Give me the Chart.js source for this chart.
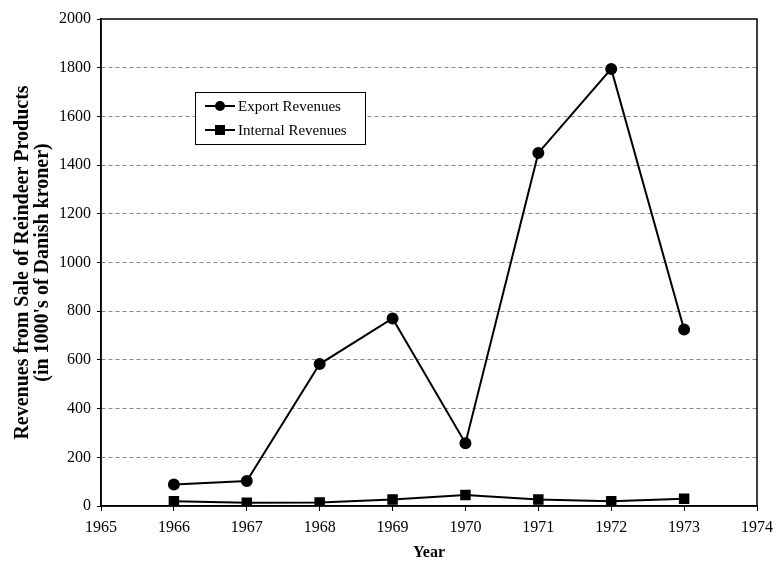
<!DOCTYPE html>
<html>
<head>
<meta charset="utf-8">
<script src="https://cdn.jsdelivr.net/npm/chart.js@4.4.0/dist/chart.umd.min.js"></script>
<style>
  html, body { margin: 0; padding: 0; background: #ffffff; }
  #wrap { width: 778px; height: 562px; }
</style>
</head>
<body>
<div id="wrap"><canvas id="chartRenas" width="778" height="562"></canvas></div>
<script>
// dados
var anos = [1966, 1967, 1968, 1969, 1970, 1971, 1972, 1973];
var receitaExport = [88, 103, 583, 770, 258, 1450, 1795, 725];
var receitaInterna = [20, 13, 14, 27, 45, 27, 20, 30];
var nomesSeries = ['Export Revenues', 'Internal Revenues'];
var marcasY = [0, 200, 400, 600, 800, 1000, 1200, 1400, 1600, 1800, 2000];

var fonte = "'Liberation Serif', 'Times New Roman', serif";

function pares(xs, ys) {
    return xs.map(function (x, i) { return { x: x, y: ys[i] }; });
}

// moldura do gráfico + legenda dentro da área
var pluginMoldura = {
    id: 'moldura',
    afterDraw: function (chart) {
        var ctx = chart.ctx;
        var a = chart.chartArea;
        ctx.save();
        ctx.strokeStyle = '#000';
        ctx.lineWidth = 1.5;
        ctx.strokeRect(a.left, a.top, a.right - a.left, a.bottom - a.top);

        // legenda
        var lx = 195, ly = 92, lw = 170, lh = 52;
        ctx.fillStyle = '#fff';
        ctx.fillRect(lx, ly, lw, lh);
        ctx.lineWidth = 1;
        ctx.strokeRect(lx + 0.5, ly + 0.5, lw, lh);
        ctx.font = '15px ' + fonte;
        ctx.textBaseline = 'middle';
        chart.data.datasets.forEach(function (ds, i) {
            var yy = ly + 14 + i * 24;
            ctx.strokeStyle = '#000';
            ctx.lineWidth = 2;
            ctx.beginPath();
            ctx.moveTo(lx + 10, yy);
            ctx.lineTo(lx + 40, yy);
            ctx.stroke();
            ctx.fillStyle = '#000';
            if (ds.pointStyle === 'rect') {
                ctx.fillRect(lx + 25 - 5, yy - 5, 10, 10);
            } else {
                ctx.beginPath();
                ctx.arc(lx + 25, yy, 5, 0, Math.PI * 2);
                ctx.fill();
            }
            ctx.fillText(ds.label, lx + 43, yy + 1);
        });
        ctx.restore();
    }
};

var ctxRenas = document.getElementById('chartRenas');

var graficoRenas = new Chart(ctxRenas, {
    type: 'line',
    data: {
        datasets: [{
            label: nomesSeries[0],
            data: pares(anos, receitaExport),
            borderColor: '#000',
            backgroundColor: '#000',
            borderWidth: 2,
            pointStyle: 'circle',
            pointRadius: 5,
            pointHoverRadius: 5,
            tension: 0
        }, {
            label: nomesSeries[1],
            data: pares(anos, receitaInterna),
            borderColor: '#000',
            backgroundColor: '#000',
            borderWidth: 2,
            pointStyle: 'rect',
            pointRadius: 6,
            pointHoverRadius: 6,
            tension: 0
        }]
    },
    options: {
        responsive: false,
        animation: false,
        layout: { padding: { top: 19, right: 21, left: 0, bottom: 0 } },
        plugins: {
            legend: { display: false },
            tooltip: { enabled: false }
        },
        scales: {
            x: {
                type: 'linear',
                min: 1965,
                max: 1974,
                afterFit: function (s) {
                    s.height = 56;
                    s.paddingLeft = 0;
                    s.paddingRight = 0;
                },
                ticks: {
                    stepSize: 1,
                    color: '#000',
                    font: { family: fonte, size: 16 },
                    padding: 7,
                    callback: function (v) { return String(v); }
                },
                grid: { drawOnChartArea: false, tickLength: 5, tickColor: '#000' },
                border: { color: '#000', width: 1.5 },
                title: {
                    display: true,
                    text: 'Year',
                    color: '#000',
                    font: { family: fonte, size: 16, weight: 'bold' },
                    padding: { top: 4, bottom: 0 }
                }
            },
            y: {
                min: 0,
                max: 2000,
                afterFit: function (s) { s.width = 101; },
                afterBuildTicks: function (s) {
                    s.ticks = marcasY.map(function (v) { return { value: v }; });
                },
                ticks: {
                    color: '#000',
                    font: { family: fonte, size: 16 },
                    padding: 6,
                    callback: function (v) { return String(v); }
                },
                grid: {
                    tickLength: 4,
                    tickColor: '#000',
                    color: function (c) {
                        var v = c.tick ? c.tick.value : 0;
                        return (v === 0 || v === 2000) ? 'rgba(0,0,0,0)' : '#8a8a8a';
                    },
                    lineWidth: 1
                },
                border: { color: '#000', width: 1.5, dash: [4, 3] },
                title: {
                    display: true,
                    text: ['Revenues from Sale of Reindeer Products', "(in 1000's of Danish kroner)"],
                    color: '#000',
                    font: { family: fonte, size: 20, weight: 'bold', lineHeight: 1.0 },
                    padding: { top: 13, bottom: 0 }
                }
            }
        }
    },
    plugins: [pluginMoldura]
});
</script>
</body>
</html>
